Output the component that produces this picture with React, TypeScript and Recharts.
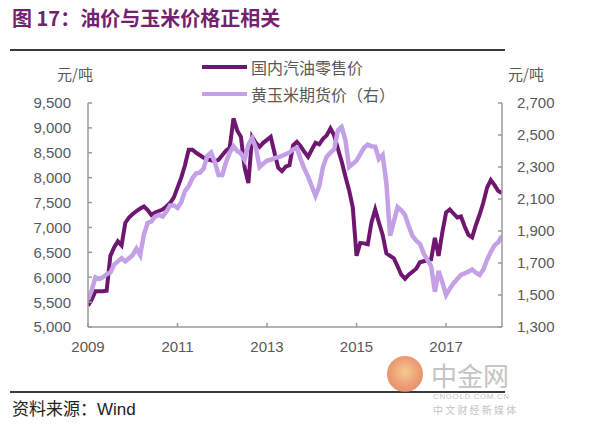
import { LineChart, Line, XAxis, YAxis } from 'recharts';

// monthly series, Jan 2009 .. Apr 2018
const startYear = 2009;

// 国内汽油零售价 (left axis, 元/吨)
const gasoline = [
  5430, 5550, 5720, 5720, 5720, 5730, 6430, 6600, 6720, 6640, 7090, 7200, // 2009
  7270, 7330, 7380, 7420, 7350, 7250, 7300, 7330, 7360, 7420, 7490, 7600, // 2010
  7800, 8000, 8250, 8560, 8560, 8500, 8450, 8400, 8370, 8350, 8330, 8360, // 2011
  8450, 8540, 8600, 9190, 8950, 8820, 8200, 7890, 8820, 8700, 8620, 8700, // 2012
  8760, 8820, 8500, 8200, 8130, 8220, 8250, 8650, 8720, 8630, 8520, 8420, // 2013
  8560, 8700, 8670, 8780, 8850, 8990, 8850, 8580, 8330, 8030, 7750, 7400, // 2014
  6430, 6690, 6680, 6660, 7100, 7360, 7100, 6850, 6480, 6430, 6380, 6220, // 2015
  6050, 5970, 6050, 6110, 6170, 6300, 6320, 6340, 6360, 6790, 6430, 6900, // 2016
  7300, 7360, 7280, 7200, 7220, 7020, 6850, 6800, 7050, 7260, 7500, 7800, // 2017
  7950, 7850, 7730, 7690, // 2018
];

// 黄玉米期货价 (right axis, 元/吨)
const corn = [
  1470, 1530, 1610, 1600, 1610, 1630, 1640, 1690, 1710, 1730, 1710, 1730, // 2009
  1750, 1790, 1750, 1880, 1950, 1960, 1990, 2000, 1990, 2020, 2060, 2060, // 2010
  2045, 2080, 2150, 2180, 2230, 2260, 2265, 2290, 2370, 2390, 2330, 2250, // 2011
  2250, 2330, 2390, 2430, 2400, 2385, 2345, 2440, 2480, 2420, 2300, 2320, // 2012
  2340, 2345, 2355, 2362, 2370, 2380, 2390, 2410, 2420, 2350, 2290, 2240, // 2013
  2180, 2120, 2180, 2300, 2365, 2390, 2410, 2530, 2550, 2470, 2300, 2320, // 2014
  2340, 2380, 2420, 2440, 2430, 2427, 2350, 2375, 2200, 1870, 1960, 2050, // 2015
  2030, 2000, 1930, 1870, 1840, 1820, 1760, 1720, 1680, 1520, 1650, 1580, // 2016
  1500, 1540, 1573, 1600, 1625, 1635, 1646, 1660, 1640, 1625, 1660, 1720, // 2017
  1770, 1810, 1830, 1870, // 2018
];

const yearTicks = [2009, 2011, 2013, 2015, 2017];
const leftTicks = [5000, 5500, 6000, 6500, 7000, 7500, 8000, 8500, 9000, 9500];
const rightTicks = [1300, 1500, 1700, 1900, 2100, 2300, 2500, 2700];
const seriesNames = ['国内汽油零售价', '黄玉米期货价（右）'];
const unit = '元/吨';

const data = gasoline.map((g, i) => ({ t: startYear + i / 12, gasoline: g, corn: corn[i] }));

const DARK = '#6f1670';
const LIGHT = '#c4a0e6';
const AXIS = '#9a9a9a';
const TEXT = '#595959';
const FONT = '"Liberation Sans", Arial, "Noto Sans CJK SC", sans-serif';
const CJK = '"Noto Sans CJK SC", "Liberation Sans", sans-serif';

// plot box in page pixels
const PLOT = { left: 88, right: 502, top: 103, bottom: 327 };

const fmt = (v: number) => v.toLocaleString('en-US');

function LeftTick({ y, payload }: any) {
  return (
    <g>
      <line x1={PLOT.left} x2={PLOT.left + 4} y1={y} y2={y} stroke={AXIS} strokeWidth={1.5} />
      <text x={PLOT.left - 17} y={y} dy="0.36em" textAnchor="end" fill={TEXT} fontSize={15} fontFamily={FONT}>
        {fmt(payload.value)}
      </text>
    </g>
  );
}

function RightTick({ y, payload }: any) {
  return (
    <g>
      <line x1={PLOT.right - 4} x2={PLOT.right} y1={y} y2={y} stroke={AXIS} strokeWidth={1.5} />
      <text x={PLOT.right + 15} y={y} dy="0.36em" textAnchor="start" fill={TEXT} fontSize={15} fontFamily={FONT}>
        {fmt(payload.value)}
      </text>
    </g>
  );
}

function BottomTick({ x, payload }: any) {
  return (
    <g>
      <line x1={x} x2={x} y1={PLOT.bottom - 4} y2={PLOT.bottom} stroke={AXIS} strokeWidth={1.5} />
      <text x={x} y={PLOT.bottom + 25} textAnchor="middle" fill={TEXT} fontSize={15} fontFamily={FONT}>
        {payload.value}
      </text>
    </g>
  );
}

export default function App() {
  return (
    <div style={{ position: 'absolute', left: 0, top: 0, width: 600, height: 428, background: '#fff', overflow: 'hidden' }}>
      <div style={{ position: 'absolute', left: 12, top: 5, fontSize: 20, fontWeight: 'bold', color: '#74226f', fontFamily: CJK, lineHeight: '26px', whiteSpace: 'nowrap' }}>
        图 17：油价与玉米价格正相关
      </div>
      <div style={{ position: 'absolute', left: 10, top: 49, width: 495, height: 2, background: '#3a3a3a' }} />

      <div style={{ position: 'absolute', left: 57, top: 64, fontSize: 15, color: TEXT, fontFamily: CJK, lineHeight: '20px' }}>{unit}</div>
      <div style={{ position: 'absolute', left: 508, top: 64, fontSize: 15, color: TEXT, fontFamily: CJK, lineHeight: '20px' }}>{unit}</div>

      {[DARK, LIGHT].map((c, k) => (
        <div key={k} style={{ position: 'absolute', left: 202, top: 57 + k * 27, height: 20, display: 'flex', alignItems: 'center' }}>
          <div style={{ width: 45, height: 4, background: c }} />
          <span style={{ marginLeft: 4, fontSize: 16, color: TEXT, fontFamily: CJK, whiteSpace: 'nowrap' }}>{seriesNames[k]}</span>
        </div>
      ))}

      <div style={{ position: 'absolute', left: 0, top: 0 }}>
        <LineChart width={600} height={428} data={data} margin={{ top: 103, right: 38, bottom: 71, left: 28 }}>
          <XAxis
            dataKey="t"
            type="number"
            domain={[2009, 2018.25]}
            ticks={yearTicks}
            height={30}
            tickLine={false}
            axisLine={{ stroke: AXIS, strokeWidth: 1.5 }}
            tick={<BottomTick />}
            interval={0}
            allowDataOverflow
          />
          <YAxis
            yAxisId="left"
            orientation="left"
            width={60}
            domain={[5000, 9500]}
            ticks={leftTicks}
            tickLine={false}
            axisLine={{ stroke: AXIS, strokeWidth: 1.5 }}
            tick={<LeftTick />}
            interval={0}
          />
          <YAxis
            yAxisId="right"
            orientation="right"
            width={60}
            domain={[1300, 2700]}
            ticks={rightTicks}
            tickLine={false}
            axisLine={{ stroke: AXIS, strokeWidth: 1.5 }}
            tick={<RightTick />}
            interval={0}
          />
          <Line yAxisId="left" dataKey="gasoline" name={seriesNames[0]} stroke={DARK} strokeWidth={4} dot={false} type="linear" isAnimationActive={false} />
          <Line yAxisId="right" dataKey="corn" name={seriesNames[1]} stroke={LIGHT} strokeWidth={4.5} dot={false} type="linear" isAnimationActive={false} />
        </LineChart>
      </div>

      <div style={{ position: 'absolute', left: 10, top: 391, width: 495, height: 2, background: '#3a3a3a' }} />
      <div style={{ position: 'absolute', left: 12, top: 397, fontSize: 17, color: '#222', fontFamily: CJK, lineHeight: '22px', whiteSpace: 'nowrap' }}>
        资料来源：<span style={{ fontFamily: FONT }}>Wind</span>
      </div>

      {/* watermark */}
      <div style={{ position: 'absolute', left: 387, top: 356, width: 36, height: 36, borderRadius: 18, background: 'radial-gradient(circle at 50% 45%, #f3c07a 0%, #e8895a 55%, #dc6f52 100%)', opacity: 0.85 }} />
      <div style={{ position: 'absolute', left: 431, top: 362, fontSize: 26, color: '#c4c4c4', fontFamily: CJK, lineHeight: '26px', whiteSpace: 'nowrap' }}>中金网</div>
      <div style={{ position: 'absolute', left: 433, top: 392, fontSize: 8, color: '#c4c4c4', fontFamily: FONT, lineHeight: '10px', letterSpacing: 0.6 }}>CNGOLD.COM.CN</div>
      <div style={{ position: 'absolute', left: 433, top: 404, fontSize: 10, color: '#c4c4c4', fontFamily: CJK, lineHeight: '12px', letterSpacing: 2.2, whiteSpace: 'nowrap' }}>中文财经新媒体</div>
    </div>
  );
}
